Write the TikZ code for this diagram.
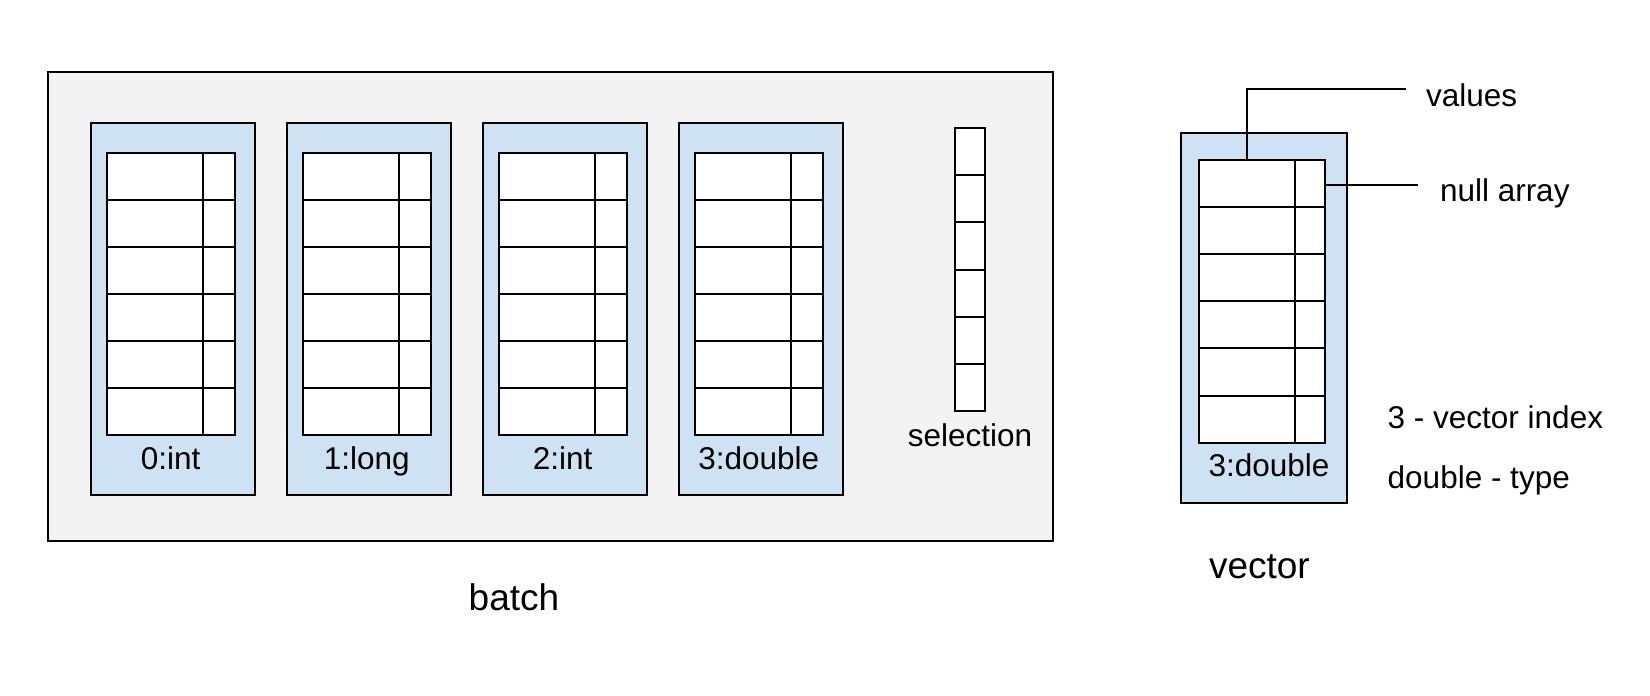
\documentclass[tikz,border=0pt]{standalone}
\usepackage{fontspec}
\setmainfont{Liberation Sans}
\definecolor{boxblue}{HTML}{CFE2F3}
\definecolor{batchgray}{HTML}{F3F3F3}
\tikzset{every picture/.style={line width=2pt}}
\tikzset{
	lbl/.style={inner sep=0pt,anchor=base,font=\fontsize{31.5}{36}\selectfont},
	title/.style={inner sep=0pt,anchor=base,font=\fontsize{37}{42}\selectfont},
}

\begin{document}
\begin{tikzpicture}[x=1pt,y=-1pt]
				\useasboundingbox (0,0) rectangle (1650,696);
				\draw[fill=batchgray] (48,72) rectangle (1053,541); %batch
				\foreach \i/\lab in {0/0:int,1/1:long,2/2:int,3/3:double}{
					\pgfmathsetmacro\xl{90.7+196*\i}
					\draw[fill=boxblue] (\xl,122.7) rectangle ++(164,372.3); %column
					\draw[fill=white] (\xl+16,152.7) rectangle ++(128,282.3);
					\foreach \r in {1,...,5} \draw (\xl+16,152.7+47.05*\r) -- ++(128,0);
					\draw (\xl+112,152.7) -- ++(0,282.3); %null
					\node[lbl] (col\i) at (\xl+80,469) {\lab};
				}
				\draw[fill=white] (955,128.3) rectangle (985,410.7); %selection
				\foreach \r in {1,...,5} \draw (955,128.3+47.07*\r) -- ++(30,0);
				\node[lbl] (sel) at (970,446) {selection};
				\node[title] (batch) at (514,610) {batch};
				\draw[fill=boxblue] (1181,132.7) rectangle (1346.7,502.7); %vector
				\draw[fill=white] (1199,160) rectangle (1325,442.7);
				\foreach \r in {1,...,5} \draw (1199,160+47.12*\r) -- ++(126,0);
				\draw (1294.7,160) -- (1294.7,442.7);
				\node[lbl] (veclab) at (1269,476.7) {3:double};
				\node[title,anchor=base west] (vector) at (1208,578) {vector};
				\coordinate (valtop) at (1246.7,160);
				\coordinate (valend) at (1406,89);
				\draw (valtop) |- (valend); %values
				\node[lbl,anchor=base west] (values) at (1425,106.7) {values};
				\coordinate (nullstart) at (1325,185);
				\coordinate (nullend) at (1418,185);
				\draw (nullstart) -- (nullend); %null array
				\node[lbl,anchor=base west] (nullarr) at (1439,201.7) {null array};
				\node[lbl,anchor=base west] (index) at (1386.7,428) {3 - vector index};
				\node[lbl,anchor=base west] (type) at (1386.7,488) {double - type};
			\end{tikzpicture}
\end{document}
